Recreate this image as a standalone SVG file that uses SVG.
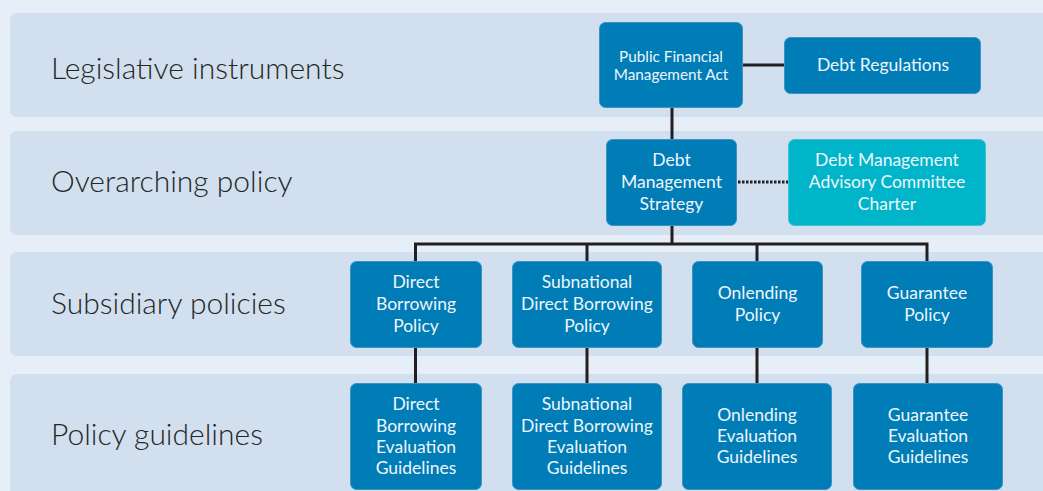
<svg xmlns="http://www.w3.org/2000/svg" width="1043" height="491" viewBox="0 0 1043 491">
<style>
.band{fill:#d1dfee}
.lbl{font-family:Lato,"Open Sans",sans-serif;font-size:30px;font-weight:300;fill:#262626}
.node{fill:#007cb7;stroke:#3d93c6;stroke-width:1}
.teal{fill:#00b5c9;stroke:#3fc3d3;stroke-width:1}
.t{font-family:Lato,"Open Sans",sans-serif;font-size:17.5px;fill:#eef6fb;text-anchor:middle}
.ts{font-family:Lato,"Open Sans",sans-serif;font-size:15.3px;fill:#eef6fb;text-anchor:middle}
.c{stroke:#231f20;stroke-width:3;fill:none}
.d{stroke:#231f20;stroke-width:3;fill:none;stroke-dasharray:2.5 1.5}
</style>
<rect width="1043" height="491" fill="#e6eef8"/>
<g id="bands">
<rect class="band" x="10" y="13" width="1045" height="104" rx="7"/>
<rect class="band" x="10" y="131" width="1045" height="104" rx="7"/>
<rect class="band" x="10" y="252" width="1045" height="104" rx="7"/>
<rect class="band" x="10" y="374" width="1045" height="130" rx="7"/>
<text class="lbl" x="51" y="79">Legislative instruments</text>
<text class="lbl" x="51" y="192">Overarching policy</text>
<text class="lbl" x="51" y="314">Subsidiary policies</text>
<text class="lbl" x="51" y="445">Policy guidelines</text>
</g>
<g id="connectors">
<line class="c" x1="743" y1="65" x2="784" y2="65"/>
<line class="c" x1="672" y1="108" x2="672" y2="139"/>
<line class="d" x1="738" y1="182" x2="788" y2="182"/>
<polyline class="c" points="415.5,261 415.5,244 927,244 927,261"/>
<line class="c" x1="672" y1="225" x2="672" y2="244"/>
<line class="c" x1="587" y1="244" x2="587" y2="261"/>
<line class="c" x1="757" y1="244" x2="757" y2="261"/>
<line class="c" x1="415.5" y1="347" x2="415.5" y2="383"/>
<line class="c" x1="587" y1="347" x2="587" y2="383"/>
<line class="c" x1="757" y1="347" x2="757" y2="383"/>
<line class="c" x1="927" y1="347" x2="927" y2="383"/>
</g>
<g id="pfma">
<rect class="node" x="599.5" y="22.5" width="143" height="85" rx="6"/>
<text class="ts" x="671" y="62">Public Financial</text>
<text class="ts" x="671" y="80">Management Act</text>
</g>
<g id="debt-regulations">
<rect class="node" x="784.5" y="37.5" width="196" height="56" rx="6"/>
<text class="t" x="883" y="71">Debt Regulations</text>
</g>
<g id="dms">
<rect class="node" x="606.5" y="139.5" width="130" height="86" rx="6"/>
<text class="t" x="671.5" y="166">Debt</text>
<text class="t" x="671.5" y="188">Management</text>
<text class="t" x="671.5" y="210">Strategy</text>
</g>
<g id="dmac">
<rect class="teal" x="788.5" y="139.5" width="197" height="86" rx="6"/>
<text class="t" x="887" y="166">Debt Management</text>
<text class="t" x="887" y="188">Advisory Committee</text>
<text class="t" x="887" y="210">Charter</text>
</g>
<g id="dbp">
<rect class="node" x="350.5" y="261.5" width="131" height="86" rx="6"/>
<text class="t" x="416" y="288">Direct</text>
<text class="t" x="416" y="310">Borrowing</text>
<text class="t" x="416" y="332">Policy</text>
</g>
<g id="sdbp">
<rect class="node" x="512.5" y="261.5" width="149" height="86" rx="6"/>
<text class="t" x="587" y="288">Subnational</text>
<text class="t" x="587" y="310">Direct Borrowing</text>
<text class="t" x="587" y="332">Policy</text>
</g>
<g id="op">
<rect class="node" x="692.5" y="261.5" width="130" height="86" rx="6"/>
<text class="t" x="757.5" y="299">Onlending</text>
<text class="t" x="757.5" y="321">Policy</text>
</g>
<g id="gp">
<rect class="node" x="861.5" y="261.5" width="131" height="86" rx="6"/>
<text class="t" x="927" y="299">Guarantee</text>
<text class="t" x="927" y="321">Policy</text>
</g>
<g id="dbeg">
<rect class="node" x="350.5" y="383.5" width="131" height="106" rx="6"/>
<text class="t" x="416" y="410">Direct</text>
<text class="t" x="416" y="432">Borrowing</text>
<text class="t" x="416" y="453">Evaluation</text>
<text class="t" x="416" y="474">Guidelines</text>
</g>
<g id="sdbeg">
<rect class="node" x="512.5" y="383.5" width="149" height="106" rx="6"/>
<text class="t" x="587" y="410">Subnational</text>
<text class="t" x="587" y="432">Direct Borrowing</text>
<text class="t" x="587" y="453">Evaluation</text>
<text class="t" x="587" y="474">Guidelines</text>
</g>
<g id="oeg">
<rect class="node" x="682.5" y="383.5" width="149" height="106" rx="6"/>
<text class="t" x="757" y="421">Onlending</text>
<text class="t" x="757" y="442">Evaluation</text>
<text class="t" x="757" y="463">Guidelines</text>
</g>
<g id="geg">
<rect class="node" x="853.5" y="383.5" width="149" height="106" rx="6"/>
<text class="t" x="928" y="421">Guarantee</text>
<text class="t" x="928" y="442">Evaluation</text>
<text class="t" x="928" y="463">Guidelines</text>
</g>
</svg>
